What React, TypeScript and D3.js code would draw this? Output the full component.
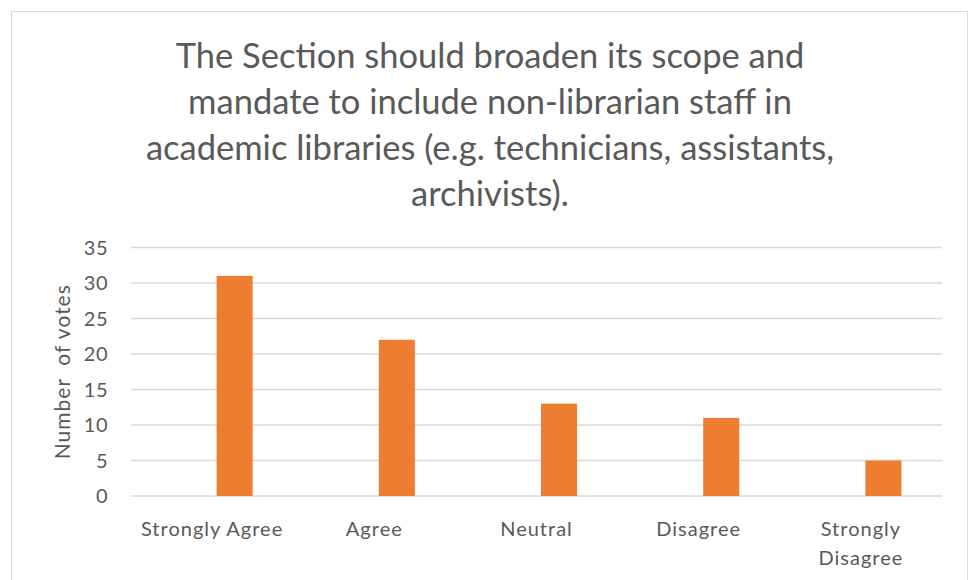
import * as d3 from "d3";

const categories = ["Strongly Agree", "Agree", "Neutral", "Disagree", "Strongly Disagree"];
const votes = [31, 22, 13, 11, 5];
const yTicks = [0, 5, 10, 15, 20, 25, 30, 35];
const titleLines = [
  "The Section should broaden its scope and",
  "mandate to include non-librarian staff in",
  "academic libraries (e.g. technicians, assistants,",
  "archivists).",
];

const W = 974;
const H = 580;
const margin = { top: 247.5, right: 32, bottom: 84, left: 131 };
const font = "Lato, 'Open Sans', sans-serif";
const textColor = "#595959";
const gridColor = "#d9d9d9";

// two slots per category, the first one empty (like an Excel clustered chart)
const wrapLabel = (s: string) => (s === "Strongly Disagree" ? ["Strongly", "Disagree"] : [s]);

const App = () => {
  const x = d3
    .scaleBand()
    .domain(categories)
    .range([margin.left, W - margin.right]);

  const slot = d3
    .scaleBand()
    .domain(["empty", "votes"])
    .range([0, x.bandwidth()])
    .paddingInner(0.2)
    .paddingOuter(0.9);

  const y = d3
    .scaleLinear()
    .domain([0, 35])
    .range([H - margin.bottom, margin.top]);

  return (
    <svg
      width={W}
      height={H}
      style={{ position: "absolute", left: 0, top: 0, display: "block", background: "#fff" }}
    >
      <rect x={11.5} y={11.5} width={956} height={H + 10} fill="#fff" stroke={gridColor} />

      <g fill={textColor} fontFamily={font} fontSize={34.5} textAnchor="middle">
        {titleLines.map((t, i) => (
          <text key={t} x={490} y={68 + i * 46}>
            {t}
          </text>
        ))}
      </g>

      <g>
        {yTicks.map((t) => (
          <g key={t}>
            <line
              x1={margin.left}
              x2={W - margin.right}
              y1={y(t)}
              y2={y(t)}
              stroke={gridColor}
              strokeWidth={1.5}
            />
            <text
              x={108}
              y={y(t)}
              dy="0.36em"
              textAnchor="end"
              fill={textColor}
              fontFamily={font}
              fontSize={20}
              letterSpacing={0.5}
            >
              {t}
            </text>
          </g>
        ))}
      </g>

      <text
        transform={`translate(62,${(y(0) + y(35)) / 2}) rotate(-90)`}
        textAnchor="middle"
        dy="0.36em"
        fill={textColor}
        fontFamily={font}
        fontSize={21}
        letterSpacing={1}
        style={{ whiteSpace: "pre" }}
      >
        {"Number  of votes"}
      </text>

      <g fill="#ED7D31">
        {categories.map((c, i) => (
          <rect
            key={c}
            x={(x(c) ?? 0) + (slot("votes") ?? 0)}
            y={y(votes[i])}
            width={slot.bandwidth()}
            height={y(0) - y(votes[i])}
          />
        ))}
      </g>

      <g fill={textColor} fontFamily={font} fontSize={20} letterSpacing={1} textAnchor="middle">
        {categories.map((c) =>
          wrapLabel(c).map((line, j) => (
            <text key={c + j} x={(x(c) ?? 0) + x.bandwidth() / 2} y={536 + j * 29}>
              {line}
            </text>
          ))
        )}
      </g>
    </svg>
  );
};

export default App;
